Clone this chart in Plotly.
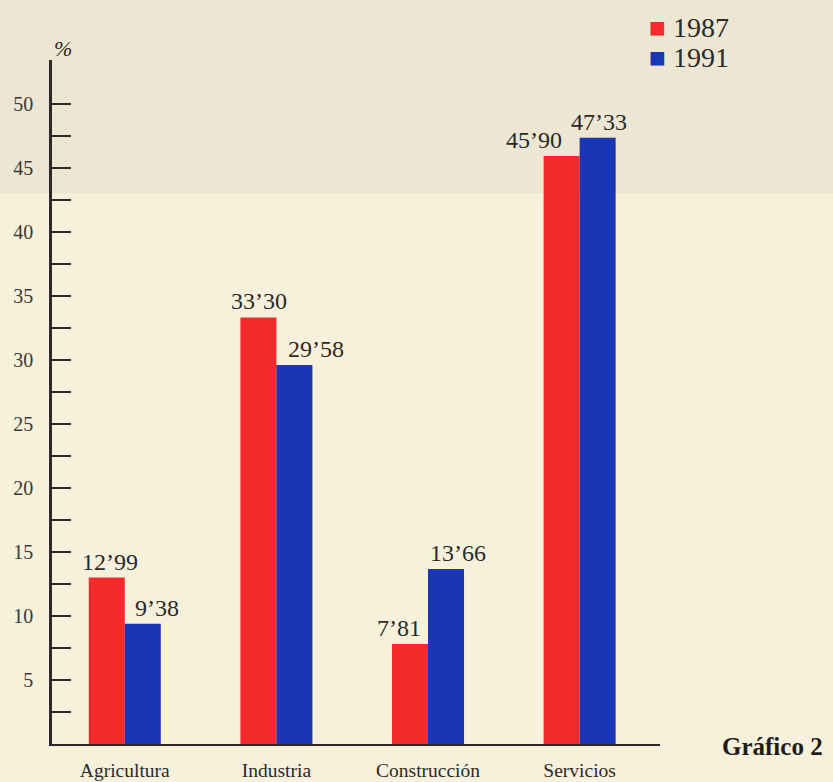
import plotly.graph_objects as go

categories = ["Agricultura", "Industria", "Construcción", "Servicios"]
series_names = ["1987", "1991"]
values_1987 = [12.99, 33.30, 7.81, 45.90]
values_1991 = [9.38, 29.58, 13.66, 47.33]
labels_1987 = ["12’99", "33’30", "7’81", "45’90"]
labels_1991 = ["9’38", "29’58", "13’66", "47’33"]
y_tick_vals = [0, 2.5, 5, 7.5, 10, 12.5, 15, 17.5, 20, 22.5, 25, 27.5, 30, 32.5, 35, 37.5, 40, 42.5, 45, 47.5, 50]
y_tick_text = ["" if v % 5 or v == 0 else str(int(v)) for v in y_tick_vals]

# label nudges (pixels) relative to each bar's centre, as set in the original
nudge_1987 = [3, 1, -11, -28]
nudge_1991 = [14, 22, 12, 1]

RED = "#f42a2d"
BLUE = "#1a36b4"
INK = "#2b2a27"
BG = "#f7f1db"
SERIF = "Liberation Serif, Times New Roman, serif"
HALF_BAR_PX = 18

fig = go.Figure()
fig.add_trace(go.Bar(x=categories, y=values_1987, name=series_names[0], marker_color=RED,
                     marker_line_width=0, hoverinfo="x+y"))
fig.add_trace(go.Bar(x=categories, y=values_1991, name=series_names[1], marker_color=BLUE,
                     marker_line_width=0, hoverinfo="x+y"))

for cat, v, lab, dx in zip(categories, values_1987, labels_1987, nudge_1987):
    fig.add_annotation(x=cat, y=v, text=lab, showarrow=False, yanchor="bottom", yshift=1,
                       xshift=-HALF_BAR_PX + dx, font=dict(family=SERIF, size=24, color=INK))
for cat, v, lab, dx in zip(categories, values_1991, labels_1991, nudge_1991):
    fig.add_annotation(x=cat, y=v, text=lab, showarrow=False, yanchor="bottom", yshift=1,
                       xshift=HALF_BAR_PX + dx, font=dict(family=SERIF, size=24, color=INK))

fig.update_layout(
    width=833, height=782,
    margin=dict(l=52, r=173, t=60, b=38),
    paper_bgcolor=BG,
    plot_bgcolor="rgba(0,0,0,0)",
    barmode="group",
    bargap=0.525,
    bargroupgap=0,
    showlegend=False,
    font=dict(family=SERIF, color=INK),
    shapes=[dict(type="rect", xref="paper", yref="paper", x0=-0.1, x1=1.3, y0=0.805, y1=1.1,
                 fillcolor="#ece6d2", line_width=0, layer="below")],
)
fig.update_xaxes(
    range=[-0.48, 3.53], showline=True, linecolor=INK, linewidth=2,
    showgrid=False, zeroline=False, ticks="", ticklabelstandoff=8, automargin=False,
    tickfont=dict(family=SERIF, size=19.5, color=INK),
)
fig.update_yaxes(
    range=[0, 53.4], showline=True, linecolor=INK, linewidth=2.5, automargin=False,
    showgrid=False, zeroline=False, ticks="inside", ticklen=19, tickwidth=1.5, tickcolor=INK,
    tickvals=y_tick_vals, ticktext=y_tick_text, ticklabelstandoff=12,
    tickfont=dict(family=SERIF, size=20, color="#3a3834"),
)

fig.add_annotation(text="<i>%</i>", xref="paper", yref="paper", x=0, y=1.0, yshift=26,
                   showarrow=False, font=dict(family=SERIF, size=22, color=INK))
fig.add_annotation(text=f"<span style='color:{RED}'>■</span> {series_names[0]}", xref="paper", yref="paper",
                   x=1.0, y=1.0, xshift=-12, yshift=33, xanchor="left", yanchor="middle", showarrow=False,
                   borderpad=0, font=dict(family=SERIF, size=28, color=INK))
fig.add_annotation(text=f"<span style='color:{BLUE}'>■</span> {series_names[1]}", xref="paper", yref="paper",
                   x=1.0, y=1.0, xshift=-12, yshift=3, xanchor="left", yanchor="middle", showarrow=False,
                   borderpad=0, font=dict(family=SERIF, size=28, color=INK))
fig.add_annotation(text="<b>Gráfico 2</b>", xref="paper", yref="paper", x=1.0, y=0, xshift=60,
                   yshift=-18, xanchor="left", showarrow=False,
                   font=dict(family=SERIF, size=25, color="#1e1d1a"))

fig.write_html("out.html", config={"displayModeBar": False},
               post_script=f"document.body.style.margin='0';document.body.style.background='{BG}';")
